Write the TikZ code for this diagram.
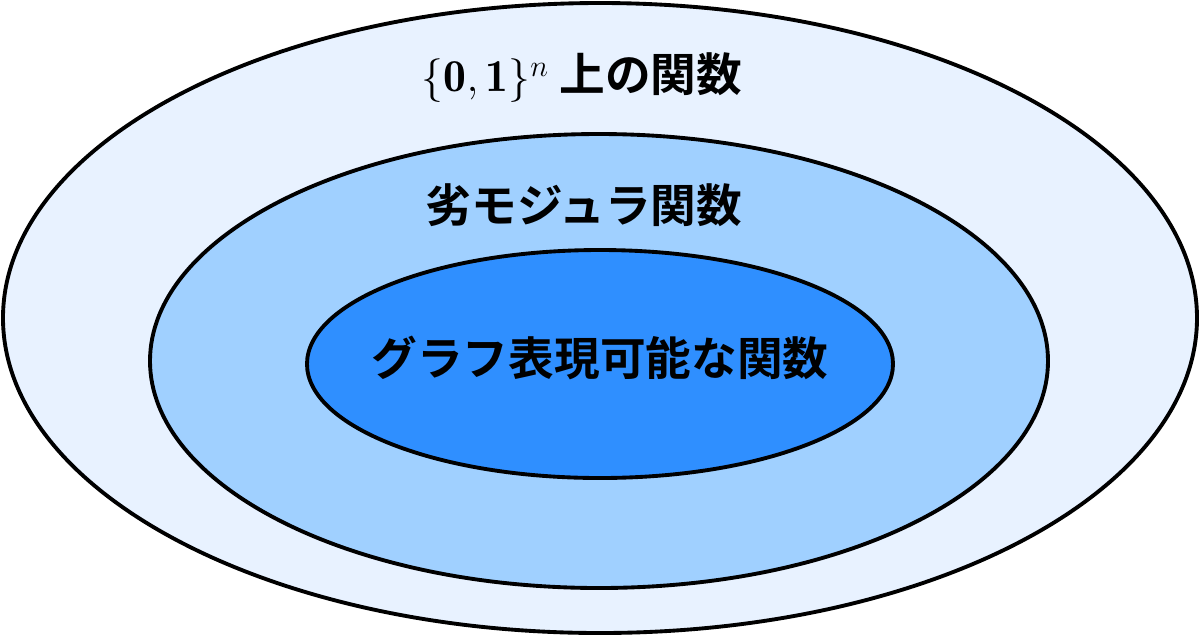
\documentclass[tikz,border=0pt]{standalone}
\usepackage{fontspec}
\newfontfamily\cjkfont{Noto Sans CJK JP}[BoldFont={* Bold}]
\newcommand\labfont{\cjkfont\bfseries\fontsize{26}{30}\selectfont}
\definecolor{cout}{RGB}{232,242,255}
\definecolor{cmid}{RGB}{160,208,255}
\definecolor{cin}{RGB}{47,143,255}
\begin{document}
\begin{tikzpicture}[x=0.02cm,y=-0.02cm]
\tikzset{ring/.style={draw=black,line width=2.2pt}, lab/.style={font=\labfont}}
\useasboundingbox (0,0) rectangle (1200,637);
\fill[white] (0,0) rectangle (1200,637);
\path[ring,fill=cout] (600,318) ellipse [x radius=597, y radius=315];
\path[ring,fill=cmid] (599,361) ellipse [x radius=449, y radius=227];
\path[ring,fill=cin] (600,364) ellipse [x radius=293, y radius=114];
\node[lab] (a) at (582,78) {$\{\mathbf{0},\mathbf{1}\}^{n}$ 上の関数};
\node[lab] (b) at (584,205) {劣モジュラ関数};
\node[lab] (c) at (600,358) {グラフ表現可能な関数};
\end{tikzpicture}
\end{document}
